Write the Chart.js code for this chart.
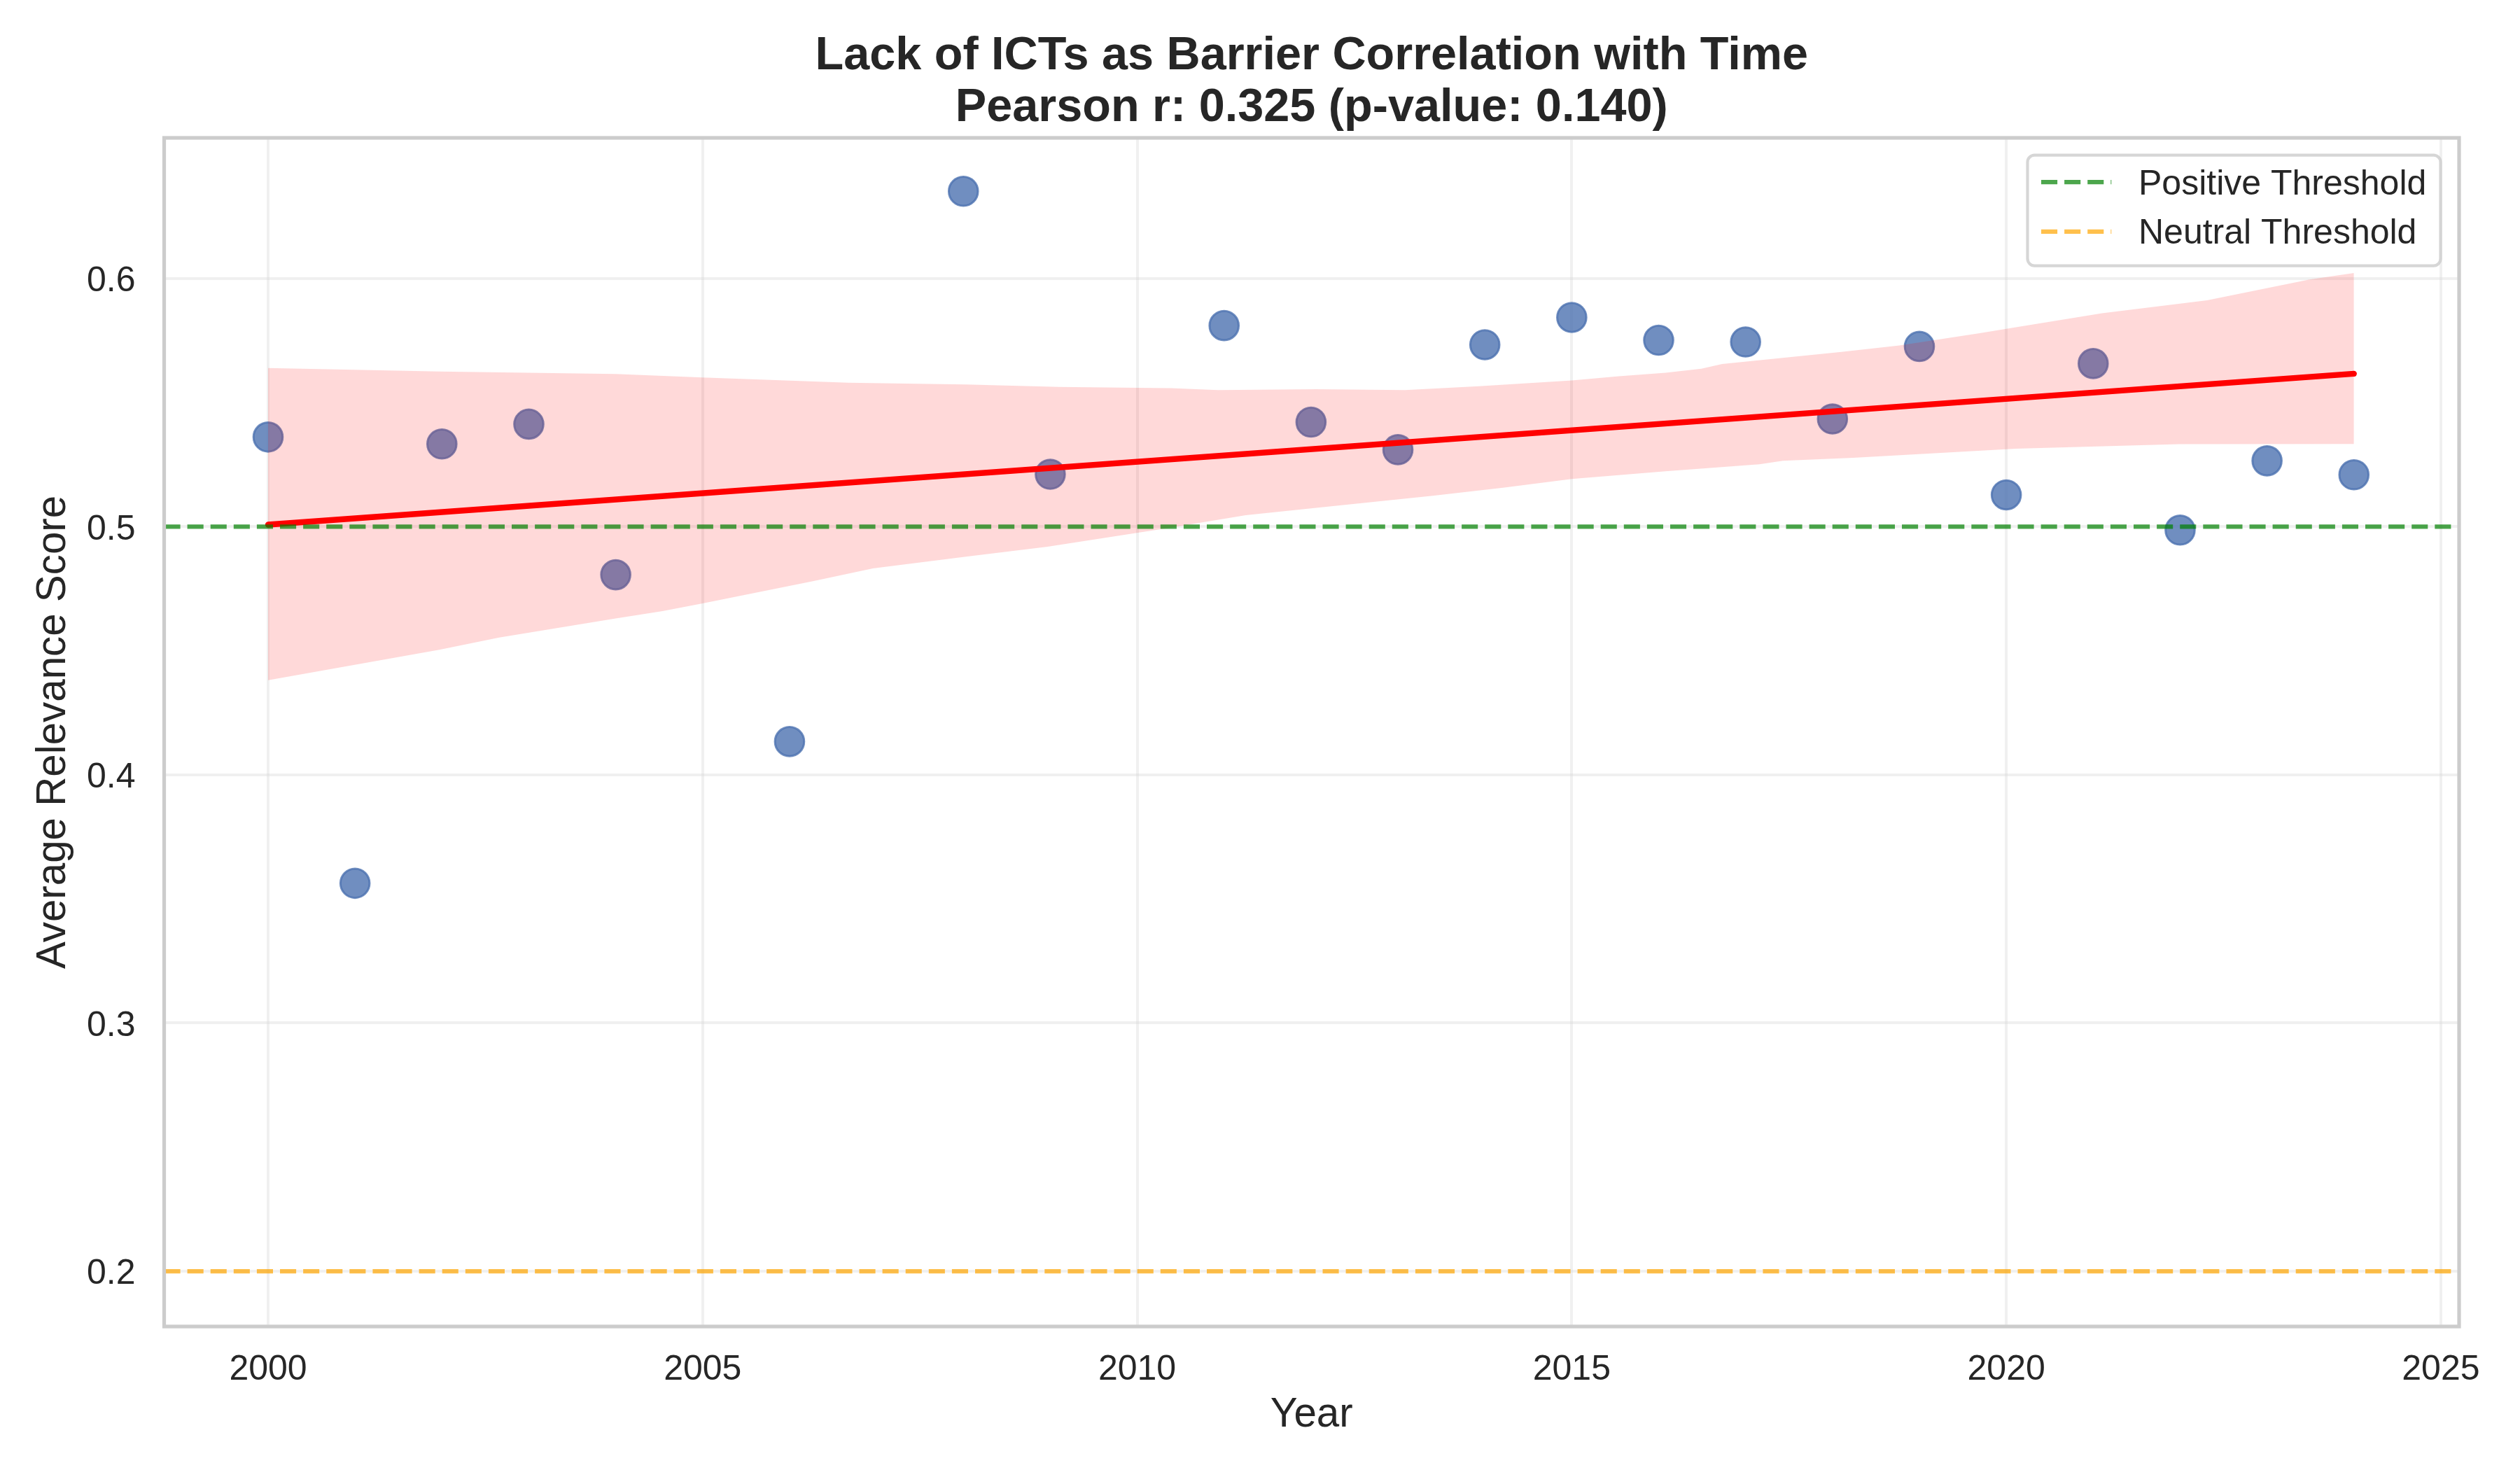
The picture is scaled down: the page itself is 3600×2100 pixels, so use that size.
<!DOCTYPE html>
<html>
<head>
<meta charset="utf-8">
<style>
html,body{margin:0;padding:0;background:#fff;}
canvas{display:block;}
</style>
<script src="https://cdn.jsdelivr.net/npm/chart.js@4"></script>
</head>
<body>
<canvas id="c" width="3600" height="2100" style="width:3600px;height:2100px"></canvas>
<script>
const years = [2000,2001,2002,2003,2004,2006,2008,2009,2011,2012,2013,2014,2015,2016,2017,2018,2019,2020,2021,2022,2023,2024];
const scores = [0.5361,0.3563,0.5333,0.5413,0.4806,0.4134,0.6351,0.5211,0.5810,0.5421,0.5310,0.5733,0.5843,0.5751,0.5744,0.5434,0.5726,0.5128,0.5657,0.4986,0.5265,0.5209];
const trendYears = [2000,2024];
const trendValues = [0.5008,0.5616];
const upperYears = [2000,2001.99,2004,2005,2006.68,2008.03,2009.1,2010.39,2010.93,2012.06,2013.08,2013.93,2015,2015.54,2016.08,2016.49,2016.73,2018.1,2018.77,2019.68,2020.11,2021.1,2022.31,2023.49,2024];
const upperValues = [0.5639,0.5625,0.5615,0.5601,0.558,0.5573,0.5563,0.5558,0.555,0.5554,0.555,0.5566,0.5589,0.5606,0.562,0.5636,0.5655,0.5704,0.573,0.5779,0.5803,0.586,0.5912,0.5996,0.6022];
const lowerYears = [2000,2001.97,2002.66,2004,2004.54,2005,2006.28,2006.96,2008.03,2008.97,2010.31,2011.25,2012.06,2013.4,2014.21,2015,2016.08,2017.16,2017.43,2018.24,2020.11,2021.99,2024];
const lowerValues = [0.4381,0.4504,0.4553,0.463,0.466,0.4691,0.4781,0.4832,0.4879,0.4919,0.4992,0.5046,0.5076,0.5124,0.5157,0.5192,0.5223,0.5251,0.5265,0.5277,0.5314,0.5332,0.5333];
const xRange = [1998.804,2025.21];
const yRange = [0.17772,0.65664];
const positiveThreshold = 0.5;
const neutralThreshold = 0.2;
const xTicks = [2000,2005,2010,2015,2020,2025];
const yTicks = [0.2,0.3,0.4,0.5,0.6];
const titleLines = ['Lack of ICTs as Barrier Correlation with Time','Pearson r: 0.325 (p-value: 0.140)'];

const pair = (xs,ys)=>xs.map((x,i)=>({x,y:ys[i]}));
const FONT = '"Liberation Sans", Arial, sans-serif';
const TXT = '#262626';

const frame = {
  id:'frame',
  beforeDraw(chart){
    chart.scales.y.getLabelItems(chart.chartArea).forEach(it=>{it.textOffset+=4.5;});
    const lg = chart.legend;
    if(lg && !lg._wrapped){
      lg._wrapped = true;
      const orig = lg.draw;
      lg.draw = function(){
        const ctx = chart.ctx;
        ctx.save();
        ctx.beginPath();
        ctx.roundRect(2896.5,221.6,590,158,10);
        ctx.fillStyle='rgba(255,255,255,0.8)';
        ctx.fill();
        ctx.lineWidth=4.2;
        ctx.strokeStyle='rgba(204,204,204,0.8)';
        ctx.stroke();
        ctx.restore();
        this.left=2895.2; this.top=214.2; this.right=3600; this.bottom=2100; this.width=704.8; this.height=1885.8;
        const ft = ctx.fillText;
        ctx.fillText = function(t,x,y,m){ return m===undefined ? ft.call(ctx,t,x,y+3.8) : ft.call(ctx,t,x,y+3.8,m); };
        orig.call(this);
        delete ctx.fillText;
      };
    }
  },
  afterDatasetsDraw(chart){
    const {ctx,chartArea:a}=chart;
    ctx.save();
    ctx.lineWidth=5.2;
    ctx.strokeStyle='#cccccc';
    ctx.strokeRect(a.left,a.top,a.right-a.left,a.bottom-a.top);
    ctx.restore();
  }
};

new Chart(document.getElementById('c'),{
  type:'line',
  plugins:[frame],
  data:{datasets:[
    {label:'Scores',data:pair(years,scores),showLine:false,order:5,pointRadius:20.8,pointBorderWidth:3,
     pointBackgroundColor:'rgba(76,114,176,0.8)',pointBorderColor:'rgba(76,114,176,0.8)'},
    {label:'CI upper',data:pair(upperYears,upperValues),order:4,borderWidth:0,pointRadius:0,tension:0,
     backgroundColor:'rgba(255,0,0,0.15)',fill:2},
    {label:'CI lower',data:pair(lowerYears,lowerValues),order:4,borderWidth:0,pointRadius:0,tension:0,fill:false},
    {label:'Trend',data:pair(trendYears,trendValues),order:3,borderColor:'#ff0000',borderWidth:8.33,pointRadius:0,borderCapStyle:'round',fill:false},
    {label:'Positive Threshold',data:pair(xRange,[positiveThreshold,positiveThreshold]),order:2,borderColor:'rgba(0,128,0,0.7)',borderWidth:6.25,borderDash:[23.1,10],pointRadius:0,fill:false},
    {label:'Neutral Threshold',data:pair(xRange,[neutralThreshold,neutralThreshold]),order:1,borderColor:'rgba(255,165,0,0.7)',borderWidth:6.25,borderDash:[23.1,10],pointRadius:0,fill:false}
  ]},
  options:{
    responsive:false,
    animation:false,
    devicePixelRatio:1,
    layout:{padding:{left:0,right:87,top:0,bottom:0}},
    plugins:{
      filler:{drawTime:'beforeDatasetDraw',propagate:false},
      tooltip:{enabled:false},
      title:{
        display:true,text:titleLines,color:TXT,fullSize:false,
        font:{family:FONT,size:66.6,weight:'bold',lineHeight:1.11},
        padding:{top:43.7,bottom:5.4}
      },
      legend:{
        display:true,position:'chartArea',align:'start',
        labels:{
          usePointStyle:true,pointStyleWidth:114,padding:20.8,color:TXT,
          font:{family:FONT,size:50},
          generateLabels(chart){
            return [4,5].map(i=>{
              const d=chart.data.datasets[i];
              return {text:d.label,strokeStyle:d.borderColor,fillStyle:d.borderColor,lineWidth:d.borderWidth,
                lineDash:[23.1,10,23.1,10,23.1,10,1,200],pointStyle:'line',hidden:false,datasetIndex:i,fontColor:TXT};
            });
          }
        }
      }
    },
    scales:{
      x:{
        type:'linear',min:xRange[0],max:xRange[1],
        afterFit(s){s.height=205;},
        afterBuildTicks(s){s.ticks=xTicks.map(v=>({value:v}));},
        grid:{color:'rgba(204,204,204,0.3)',lineWidth:4,drawTicks:false},
        border:{display:false},
        ticks:{color:TXT,font:{family:FONT,size:50},padding:32.5,maxRotation:0,autoSkip:false,callback:v=>String(v)},
        title:{display:true,text:'Year',color:TXT,font:{family:FONT,size:58.3},padding:{top:0,bottom:43}}
      },
      y:{
        type:'linear',min:yRange[0],max:yRange[1],
        afterFit(s){s.width=234.5;},
        afterBuildTicks(s){s.ticks=yTicks.map(v=>({value:v}));},
        grid:{color:'rgba(204,204,204,0.3)',lineWidth:4,drawTicks:false},
        border:{display:false},
        ticks:{color:TXT,font:{family:FONT,size:50},padding:41,autoSkip:false,callback:v=>v.toFixed(1)},
        title:{display:true,text:'Average Relevance Score',color:TXT,font:{family:FONT,size:58.3},padding:{top:42,bottom:0}}
      }
    }
  }
});
</script>
</body>
</html>
